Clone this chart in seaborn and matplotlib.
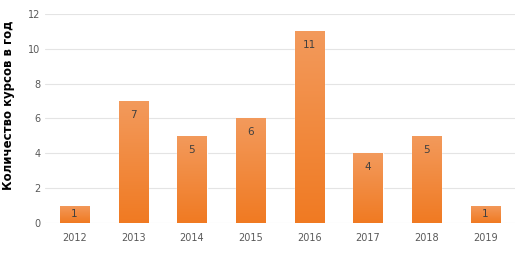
import matplotlib
matplotlib.use('Agg')
import matplotlib.pyplot as plt
from matplotlib.colors import LinearSegmentedColormap
import numpy as np
import pandas as pd
import seaborn as sns

years = ['2012', '2013', '2014', '2015', '2016', '2017', '2018', '2019']
courses = [1, 7, 5, 6, 11, 4, 5, 1]

df = pd.DataFrame({'year': years, 'courses': courses})

sns.set_style('white')
fig = plt.figure(figsize=(5.19, 2.54), dpi=100)
ax = fig.add_axes([0.087, 0.122, 0.905, 0.823])

sns.barplot(data=df, x='year', y='courses', color='#F07F2E', width=0.5, ax=ax, zorder=2)

# gradient fill in the bars, lighter on top
grad = np.linspace(0, 1, 256).reshape(-1, 1)
cmap = LinearSegmentedColormap.from_list('o', ['#F07A22', '#F39A5C'])
for p in ax.patches:
    x0, y0 = p.get_x(), p.get_y()
    w, h = p.get_width(), p.get_height()
    im = ax.imshow(grad, cmap=cmap, aspect='auto', origin='lower',
                   extent=[x0, x0 + w, y0, y0 + h], zorder=3)
    im.set_clip_path(p)
    ax.text(x0 + w / 2, h - min(0.8, h / 2), str(int(h)), ha='center', va='center',
            fontsize=7.5, color='#404040', zorder=4)

ax.set_xlim(-0.5, 7.5)
ax.set_ylim(0, 12)
ax.set_yticks(range(0, 13, 2))
ax.yaxis.grid(True, color='#E4E4E4', linewidth=0.8, zorder=0)
ax.set_axisbelow(True)
for s in ax.spines.values():
    s.set_visible(False)
ax.tick_params(axis='both', length=0, labelsize=7, labelcolor='#595959')
ax.tick_params(axis='x', pad=7)
ax.set_xlabel('')
ax.set_ylabel('Количество курсов в год', fontsize=8.5, fontweight='bold', color='black')
ax.yaxis.set_label_coords(-0.064, 0.565)

fig.savefig('out.png', dpi=100)
